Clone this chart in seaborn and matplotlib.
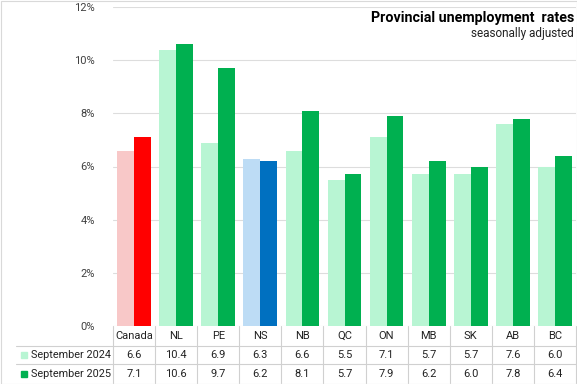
import pandas as pd
import matplotlib
matplotlib.use('Agg')
import matplotlib.pyplot as plt
import seaborn as sns
from matplotlib.patches import Rectangle
from matplotlib.lines import Line2D

# DATA
regions = ['Canada', 'NL', 'PE', 'NS', 'NB', 'QC', 'ON', 'MB', 'SK', 'AB', 'BC']
sep_2024 = [6.6, 10.4, 6.9, 6.3, 6.6, 5.5, 7.1, 5.7, 5.7, 7.6, 6.0]
sep_2025 = [7.1, 10.6, 9.7, 6.2, 8.1, 5.7, 7.9, 6.2, 6.0, 7.8, 6.4]
series_names = ['September 2024', 'September 2025']

# colours (default green, Canada red, NS blue)
light_green, dark_green = '#B8F5D3', '#00B050'
light_red, dark_red = '#F8C8C8', '#FF0000'
light_blue, dark_blue = '#BDDCF5', '#0070C0'

df = pd.DataFrame({
    'Region': regions * 2,
    'Rate': sep_2024 + sep_2025,
    'Series': [series_names[0]] * len(regions) + [series_names[1]] * len(regions),
})

sns.set_style('white')
plt.rcParams['font.family'] = ['Roboto', 'DejaVu Sans']

W, H = 577, 384
fig = plt.figure(figsize=(W / 100, H / 100), dpi=100)
ax_l, ax_r, ax_t, ax_b = 113, 576, 7, 326
ax = fig.add_axes([ax_l / W, 1 - ax_b / H, (ax_r - ax_l) / W, (ax_b - ax_t) / H])

sns.barplot(data=df, x='Region', y='Rate', hue='Series', order=regions,
            palette=[light_green, dark_green], width=0.8, saturation=1,
            legend=False, ax=ax)

# recolour Canada and NS bars
n = len(regions)
bars = ax.patches[:2 * n]
for i, p in enumerate(bars):
    idx = i % n
    first = i < n
    if regions[idx] == 'Canada':
        p.set_facecolor(light_red if first else dark_red)
    elif regions[idx] == 'NS':
        p.set_facecolor(light_blue if first else dark_blue)
    p.set_edgecolor('none')

ax.set_ylim(0, 12)
ax.set_xlim(-0.5, n - 0.5)
ax.set_yticks(range(0, 13, 2))
ax.set_yticklabels([f'{v}%' for v in range(0, 13, 2)], fontsize=8, color='#404040')
ax.set_xticks([])
ax.set_xlabel('')
ax.set_ylabel('')
ax.tick_params(axis='y', length=0, pad=13)
ax.grid(axis='y', color='#DDDDDD', linewidth=0.8)
ax.set_axisbelow(True)
for s in ax.spines.values():
    s.set_visible(False)

# title
fig.text(574 / W, 1 - 18 / H, 'Provincial unemployment  rates', ha='right', va='center',
         fontsize=10.3, fontweight='bold', color='black')
fig.text(574 / W, 1 - 34 / H, 'seasonally adjusted', ha='right', va='center',
         fontsize=8.5, color='#222222')

# data table below the axes
line_c = '#D0D0D0'
cat_w = (ax_r - ax_l) / n
row_lines = [346, 364]
for y in row_lines:
    fig.add_artist(Line2D([16 / W, ax_r / W], [1 - y / H, 1 - y / H], color=line_c, lw=0.8))
for i in range(n + 1):
    x = ax_l + i * cat_w
    fig.add_artist(Line2D([x / W, x / W], [1 - ax_b / H, 1 - 383 / H], color=line_c, lw=0.8))

row_y = [336, 355, 374]
for i, reg in enumerate(regions):
    x = (ax_l + (i + 0.5) * cat_w) / W
    fig.text(x, 1 - row_y[0] / H, reg, ha='center', va='center', fontsize=8, color='#222222')
    fig.text(x, 1 - row_y[1] / H, f'{sep_2024[i]:.1f}', ha='center', va='center', fontsize=8, color='#222222')
    fig.text(x, 1 - row_y[2] / H, f'{sep_2025[i]:.1f}', ha='center', va='center', fontsize=8, color='#222222')

for k, (name, col) in enumerate(zip(series_names, [light_green, dark_green])):
    yc = row_y[k + 1]
    fig.add_artist(Rectangle((21 / W, 1 - (yc + 3) / H), 6 / W, 6 / H, color=col))
    fig.text(31 / W, 1 - yc / H, name, ha='left', va='center', fontsize=7.8, color='#222222')

# outer border
fig.add_artist(Rectangle((0.5 / W, 0.5 / H), (W - 1) / W, (H - 1) / H, fill=False,
                         edgecolor='#D9D9D9', lw=0.8))

fig.savefig('out.png', dpi=100)
